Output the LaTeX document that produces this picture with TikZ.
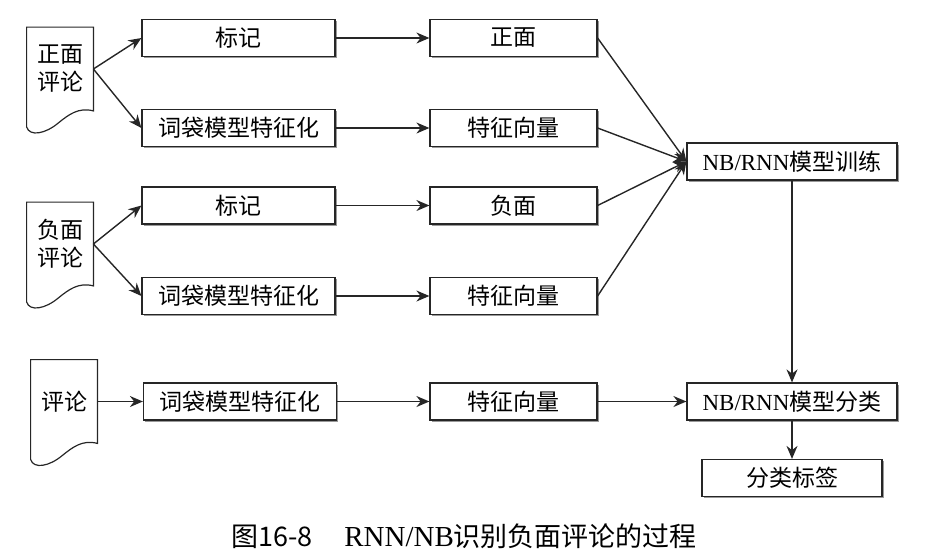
\documentclass[tikz,border=0pt]{standalone}
\usepackage{fontspec}
\setmainfont{Liberation Serif}
\newfontfamily\cjk{Noto Sans CJK SC}
\usetikzlibrary{arrows.meta,shadows}
\tikzset{
    flow-box/.style = {draw=black!85, fill=white, line width=0.6pt, rectangle, minimum height=18.5pt, inner sep=2pt, font=\cjk\fontsize{11.5}{13}\selectfont, drop shadow={shadow xshift=0.8pt, shadow yshift=-0.8pt, fill=black!40, opacity=1}},
    left-box/.style = {flow-box, minimum width=96.5pt},
    mid-box/.style = {flow-box, minimum width=83.5pt},
    right-box/.style = {flow-box, minimum width=105pt},
    doc-box/.style = {minimum width=33pt, minimum height=41.5pt, inner sep=0pt, align=center, font=\cjk\fontsize{11.5}{14}\selectfont},
    doc-line/.style = {draw=black!85, line width=0.6pt},
    flow-arrow/.style = {draw=black!85, line width=0.7pt, -{Stealth[length=6.5pt,width=5.5pt]}},
}

\begin{document}
\begin{tikzpicture}[x=0.5pt, y=-0.5pt]
\useasboundingbox (0,0) rectangle (941,558);

% documents on the left
\node[doc-box] (pos-doc) at (60,69) {正面\\评论};
\node[doc-box] (neg-doc) at (60,244) {负面\\评论};
\node[doc-box] (new-doc) at (64,401.5) {评论};
\foreach \d in {pos-doc,neg-doc,new-doc}
  \draw[doc-line] ([yshift=-8pt]\d.south west) -- (\d.north west) -- (\d.north east) -- (\d.south east)
    .. controls +(-7.5pt,2pt) and +(5pt,4pt) .. ([xshift=-17.5pt,yshift=-6pt]\d.south east)
    .. controls +(-6.5pt,-5.5pt) and +(1.5pt,-5pt) .. ([yshift=-8pt]\d.south west);

% positive reviews
\node[left-box] (pos-tag) at (238.5,38) {标记};
\node[left-box] (pos-bow) at (238.5,128) {词袋模型特征化};
\node[mid-box] (pos-label) at (513.5,38) {正面};
\node[mid-box] (pos-vec) at (513.5,128) {特征向量};

% negative reviews
\node[left-box] (neg-tag) at (238.5,205.5) {标记};
\node[left-box] (neg-bow) at (238.5,296) {词袋模型特征化};
\node[mid-box] (neg-label) at (513.5,205.5) {负面};
\node[mid-box] (neg-vec) at (513.5,296) {特征向量};

% new review
\node[left-box] (new-bow) at (240,401.5) {词袋模型特征化};
\node[mid-box] (new-vec) at (513.5,401.5) {特征向量};

% model
\node[right-box] (train) at (792,161.5) {{\rmfamily NB/RNN}模型训练};
\node[right-box] (classify) at (792,401.5) {{\rmfamily NB/RNN}模型分类};
\node[flow-box, minimum width=90pt] (result) at (792,478) {分类标签};

\node[font=\cjk\fontsize{13.5}{15}\selectfont] (caption) at (464,536) {图16-8\hspace{16pt}{\rmfamily\fontsize{14.5}{15}\selectfont RNN/NB}识别负面评论的过程};

\foreach \a/\b in {pos-doc/pos-tag, pos-doc/pos-bow, neg-doc/neg-tag, neg-doc/neg-bow, new-doc/new-bow,
                   pos-tag/pos-label, pos-bow/pos-vec, neg-tag/neg-label, neg-bow/neg-vec, new-bow/new-vec,
                   pos-label/train, pos-vec/train, neg-label/train, neg-vec/train, new-vec/classify}
  \draw[flow-arrow] (\a.east) -- (\b.west);
\draw[flow-arrow] (train.south) -- (classify.north);
\draw[flow-arrow] (classify.south) -- (result.north);
\end{tikzpicture}
\end{document}
